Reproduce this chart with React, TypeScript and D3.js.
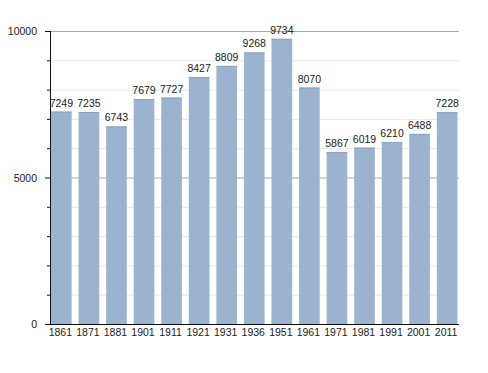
import React, { useEffect, useRef } from "react";
import * as d3 from "d3";

// census years and population
const years = ["1861", "1871", "1881", "1901", "1911", "1921", "1931", "1936", "1951", "1961", "1971", "1981", "1991", "2001", "2011"];
const population = [7249, 7235, 6743, 7679, 7727, 8427, 8809, 9268, 9734, 8070, 5867, 6019, 6210, 6488, 7228];
const yLabels = [0, 5000, 10000];

const W = 488,
  H = 373;

const drawChart = (node: SVGSVGElement) => {
  const svg = d3.select(node);
  svg.selectAll("*").remove();

  const left = 50,
    right = 458,
    top = 31,
    bottom = 324;

  const x = d3.scaleBand().domain(years).range([51, 457.5]).paddingInner(0.25).paddingOuter(0);
  const y = d3.scaleLinear().domain([0, 10000]).range([bottom, top]);

  const font = "Liberation Sans, Arial, sans-serif";

  // grid lines every 1000, darker every 5000
  const gridVals = d3.range(1000, 10001, 1000);
  svg
    .append("g")
    .selectAll("line")
    .data(gridVals)
    .enter()
    .append("line")
    .attr("x1", left)
    .attr("x2", right + 1)
    .attr("y1", d => y(d) + 0.5)
    .attr("y2", d => y(d) + 0.5)
    .attr("stroke", d => (d % 5000 === 0 ? "#a8a8a8" : "#e8e8e8"))
    .attr("stroke-width", 1);

  // bars
  svg
    .append("g")
    .selectAll("rect")
    .data(population)
    .enter()
    .append("rect")
    .attr("x", (d, i) => x(years[i])!)
    .attr("y", d => y(d))
    .attr("width", x.bandwidth())
    .attr("height", d => bottom - y(d))
    .attr("fill", "#9cb3cf");

  // darker top edge of bars
  svg
    .append("g")
    .selectAll("line")
    .data(population)
    .enter()
    .append("line")
    .attr("x1", (d, i) => x(years[i])!)
    .attr("x2", (d, i) => x(years[i])! + x.bandwidth())
    .attr("y1", d => y(d) + 0.5)
    .attr("y2", d => y(d) + 0.5)
    .attr("stroke", "#8aa2bf");

  // value labels
  svg
    .append("g")
    .selectAll("text")
    .data(population)
    .enter()
    .append("text")
    .attr("x", (d, i) => x(years[i])! + x.bandwidth() / 2)
    .attr("y", d => y(d) - 5)
    .attr("text-anchor", "middle")
    .attr("font-family", font)
    .attr("font-size", 10.5)
    .attr("fill", "#1a1a1a")
    .text(d => d);

  // y axis line + ticks
  svg
    .append("line")
    .attr("x1", left + 0.5)
    .attr("x2", left + 0.5)
    .attr("y1", top)
    .attr("y2", bottom + 1)
    .attr("stroke", "#111");

  svg
    .append("g")
    .selectAll("line")
    .data(d3.range(0, 10001, 1000))
    .enter()
    .append("line")
    .attr("x1", d => (d % 5000 === 0 ? left - 5 : left - 3))
    .attr("x2", left)
    .attr("y1", d => y(d) + 0.5)
    .attr("y2", d => y(d) + 0.5)
    .attr("stroke", "#111");

  svg
    .append("g")
    .selectAll("text")
    .data(yLabels)
    .enter()
    .append("text")
    .attr("x", 37)
    .attr("y", d => y(d) + 4)
    .attr("text-anchor", "end")
    .attr("font-family", font)
    .attr("font-size", 10.5)
    .attr("fill", "#1a1a1a")
    .text(d => d);

  // x axis line + labels
  svg
    .append("line")
    .attr("x1", left)
    .attr("x2", right + 1)
    .attr("y1", bottom + 0.5)
    .attr("y2", bottom + 0.5)
    .attr("stroke", "#111");

  svg
    .append("g")
    .selectAll("text")
    .data(years)
    .enter()
    .append("text")
    .attr("x", d => x(d)! + x.bandwidth() / 2 - 1)
    .attr("y", bottom + 12)
    .attr("text-anchor", "middle")
    .attr("font-family", font)
    .attr("font-size", 10.5)
    .attr("fill", "#1a1a1a")
    .text(d => d);
};

export default function App() {
  const ref = useRef<SVGSVGElement>(null);

  useEffect(() => {
    if (ref.current) drawChart(ref.current);
  }, []);

  return (
    <svg
      ref={ref}
      width={W}
      height={H}
      style={{ position: "absolute", left: 0, top: 0, background: "#fff" }}
    />
  );
}
